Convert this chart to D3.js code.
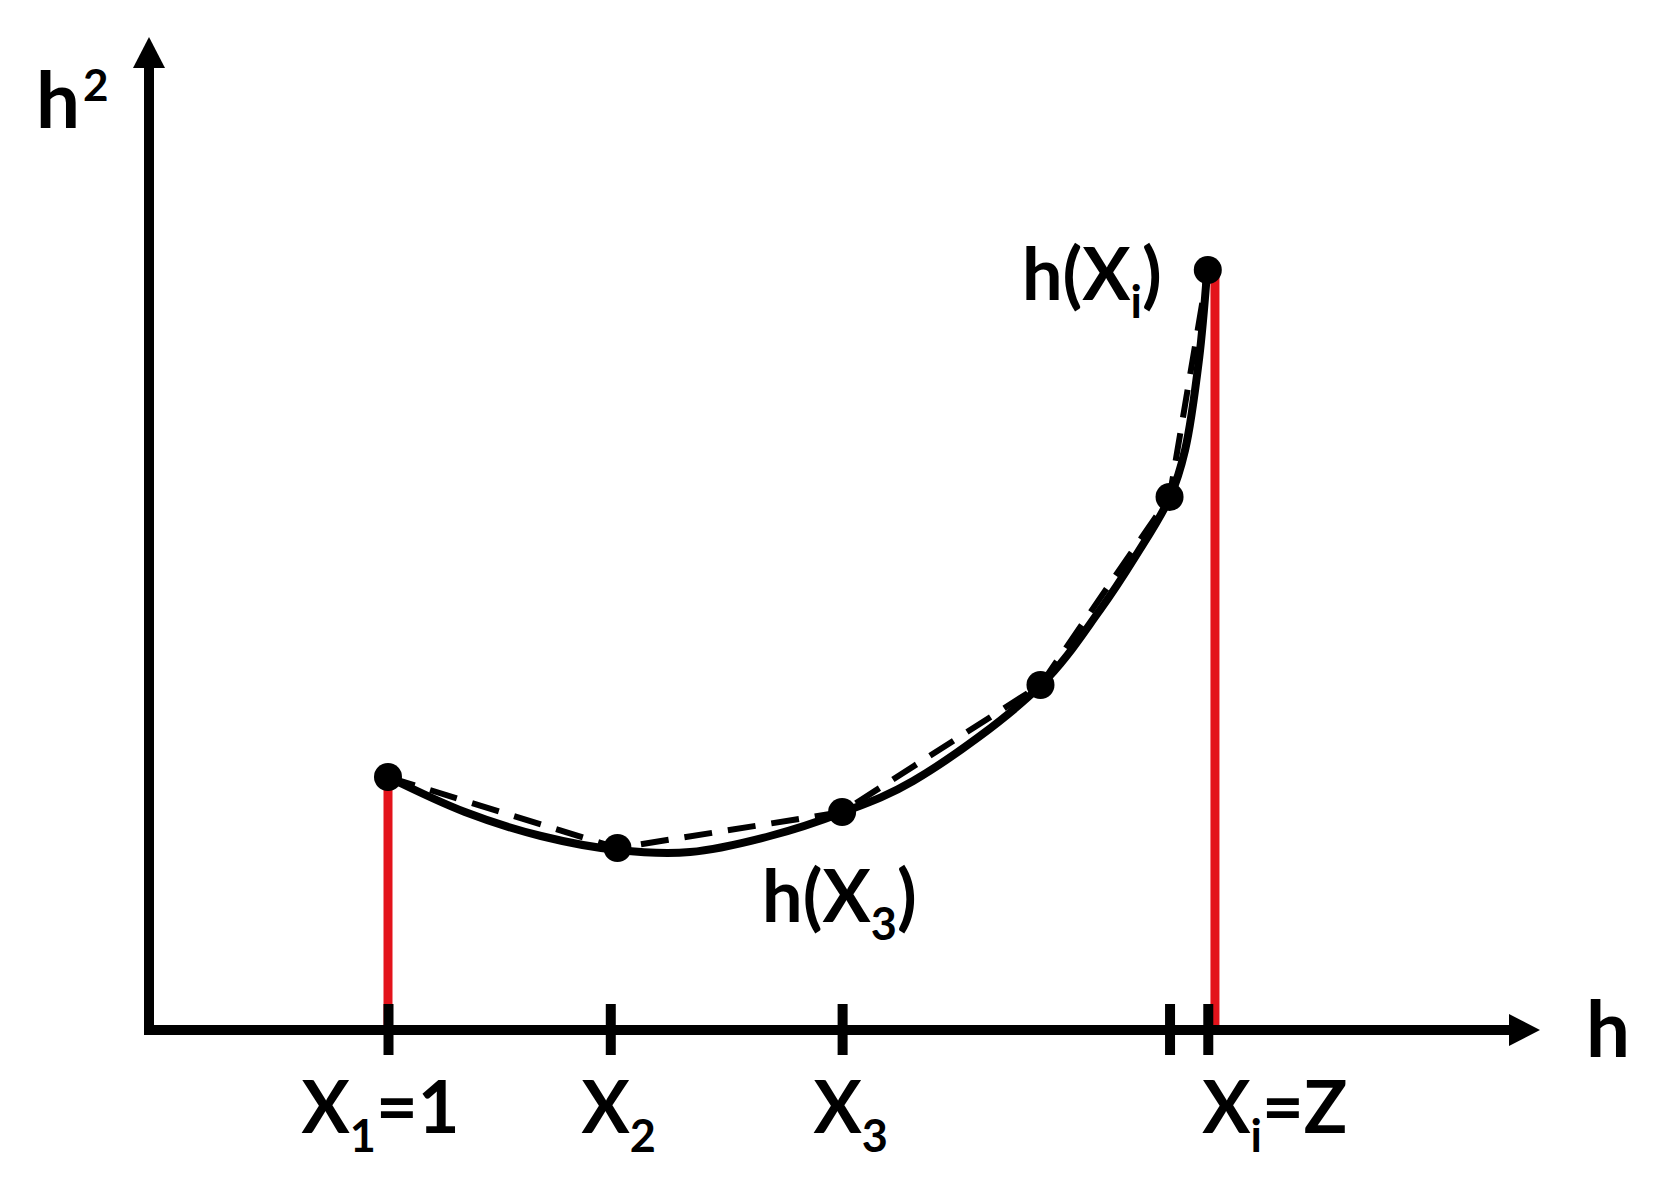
<!DOCTYPE html>
<html>
<head>
<meta charset="utf-8">
<script src="https://cdn.jsdelivr.net/npm/d3@7"></script>
<style>
  html, body { margin: 0; padding: 0; background: #fff; }
  svg { display: block; }
  text { font-family: "Lato", "Open Sans", sans-serif; font-weight: 700; fill: #000; }
</style>
</head>
<body>
<div id="chart"></div>
<script>
// puntos del polígono (línea discontinua) sobre la curva
const hValues  = [1.00, 1.96, 2.90, 3.73, 4.27, 4.43];
const h2Values = [2.53, 1.82, 2.18, 3.45, 5.33, 7.60];

// curva continua
const curveH  = [1.000, 1.322, 1.640, 1.962, 2.264, 2.598, 2.895, 3.197, 3.728, 3.979, 4.126, 4.272, 4.335, 4.393, 4.427];
const curveH2 = [2.53, 2.18, 1.94, 1.80, 1.78, 1.94, 2.17, 2.49, 3.44, 4.20, 4.73, 5.33, 5.80, 6.70, 7.58];

// marcas del eje h
const tickValues = [1.00, 1.93, 2.90, 4.27, 4.43];
const tickLabels = [
    { main: 'X', sub: '1', rest: '=1' },
    { main: 'X', sub: '2', rest: '' },
    { main: 'X', sub: '3', rest: '' },
    null,
    { main: 'X', sub: 'i', rest: '=Z' }
];

// líneas rojas verticales
const redLineH  = [1.00, 4.46];
const redLineH2 = [2.53, 7.60];

const hMax = 5.82;
const h2Max = 9.93;

const width = 1654, height = 1183;

const svg = d3.select('#chart')
    .append('svg')
    .attr('width', width)
    .attr('height', height);

const x = d3.scaleLinear().domain([0, hMax]).range([149, 1540]);
const y = d3.scaleLinear().domain([0, h2Max]).range([1030, 37]);

// líneas rojas
svg.selectAll('.red-line')
    .data(redLineH)
    .enter()
    .append('line')
    .attr('class', 'red-line')
    .attr('x1', d => x(d))
    .attr('x2', d => x(d))
    .attr('y1', y(0))
    .attr('y2', (d, i) => y(redLineH2[i]))
    .attr('stroke', '#e3131b')
    .attr('stroke-width', 9);

// ejes
const axisW = 10;
svg.append('line')
    .attr('x1', x(0)).attr('y1', y(0) + axisW / 2)
    .attr('x2', x(0)).attr('y2', y(h2Max) + 28)
    .attr('stroke', '#000').attr('stroke-width', axisW);
svg.append('path')
    .attr('d', `M${x(0)},${y(h2Max)} L${x(0) + 16},${y(h2Max) + 31} L${x(0) - 16},${y(h2Max) + 31} Z`)
    .attr('fill', '#000');

svg.append('line')
    .attr('x1', x(0) - axisW / 2).attr('y1', y(0))
    .attr('x2', x(hMax) - 28).attr('y2', y(0))
    .attr('stroke', '#000').attr('stroke-width', axisW);
svg.append('path')
    .attr('d', `M${x(hMax)},${y(0)} L${x(hMax) - 31},${y(0) - 16} L${x(hMax) - 31},${y(0) + 16} Z`)
    .attr('fill', '#000');

// marcas con d3.axisBottom
const tickG = svg.append('g')
    .attr('transform', `translate(0,${y(0) - 26})`)
    .call(d3.axisBottom(x).tickValues(tickValues).tickSize(51).tickFormat(''));
tickG.select('.domain').remove();
tickG.selectAll('.tick line')
    .attr('stroke', '#000')
    .attr('stroke-width', 10);

// etiquetas de las marcas
tickG.selectAll('.tick').each(function(d, i) {
    const lab = tickLabels[i];
    if (!lab) return;
    const last = i === tickLabels.length - 1;
    const t = d3.select(this).append('text')
        .attr('x', last ? -6 : (i === 0 ? -8 : 8))
        .attr('y', 129)
        .attr('text-anchor', last ? 'start' : 'middle')
        .attr('font-size', 72);
    t.append('tspan').text(lab.main);
    t.append('tspan').attr('dy', 19).attr('font-size', 45).text(lab.sub);
    if (lab.rest) t.append('tspan').attr('dy', -19).text(lab.rest);
});

// línea discontinua (poligonal)
const pts = hValues.map((h, i) => [h, h2Values[i]]);
svg.append('path')
    .datum(pts)
    .attr('fill', 'none')
    .attr('stroke', '#000')
    .attr('stroke-width', 6)
    .attr('stroke-dasharray', '28,16')
    .attr('d', d3.line().x(d => x(d[0])).y(d => y(d[1])));

// curva continua
const curvePts = curveH.map((h, i) => [h, curveH2[i]]);
svg.append('path')
    .datum(curvePts)
    .attr('fill', 'none')
    .attr('stroke', '#000')
    .attr('stroke-width', 8)
    .attr('stroke-linecap', 'round')
    .attr('d', d3.line().curve(d3.curveCatmullRom.alpha(0.5)).x(d => x(d[0])).y(d => y(d[1])));

// puntos
svg.selectAll('.pt')
    .data(pts)
    .enter()
    .append('circle')
    .attr('class', 'pt')
    .attr('cx', d => x(d[0]))
    .attr('cy', d => y(d[1]))
    .attr('r', 14)
    .attr('fill', '#000');

// etiquetas de los ejes
const yLab = svg.append('text')
    .attr('x', 36).attr('y', 128)
    .attr('font-size', 78);
yLab.append('tspan').text('h');
yLab.append('tspan').attr('dx', 3).attr('dy', -27).attr('font-size', 44).text('2');

svg.append('text')
    .attr('x', x(hMax) + 46).attr('y', y(0) + 27)
    .attr('font-size', 78)
    .text('h');

// etiquetas de puntos
const lastPt = pts[pts.length - 1];
const labI = svg.append('text')
    .attr('x', x(lastPt[0]) - 46)
    .attr('y', y(lastPt[1]) + 30)
    .attr('text-anchor', 'end')
    .attr('font-size', 72);
labI.append('tspan').text('h(X');
labI.append('tspan').attr('dy', 18).attr('font-size', 45).text('i');
labI.append('tspan').attr('dy', -18).text(')');

const p3 = pts[2];
const lab3 = svg.append('text')
    .attr('x', x(p3[0]) - 80)
    .attr('y', y(p3[1]) + 110)
    .attr('font-size', 72);
lab3.append('tspan').text('h(X');
lab3.append('tspan').attr('dy', 18).attr('font-size', 45).text('3');
lab3.append('tspan').attr('dy', -18).text(')');
</script>
</body>
</html>
